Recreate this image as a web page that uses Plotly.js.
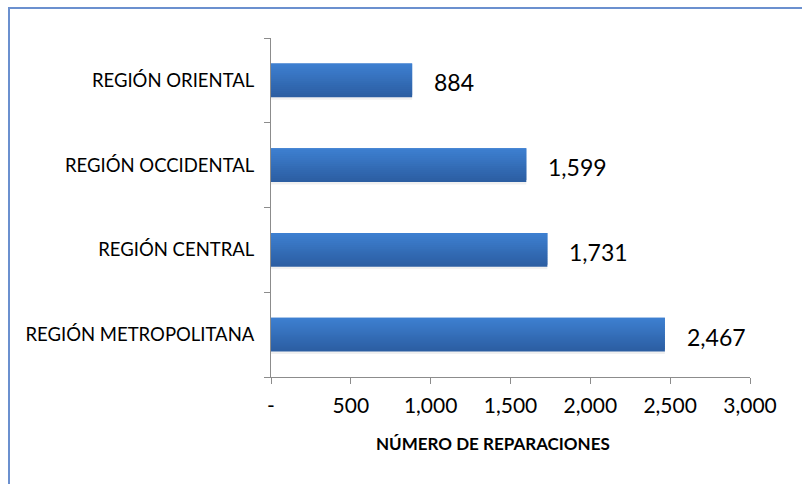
<!DOCTYPE html>
<html><head><meta charset="utf-8">
<script src="https://cdn.plot.ly/plotly-3.0.1.min.js"></script>
<style>
html,body{margin:0;padding:0;background:#fff;}
#frame{position:absolute;left:8px;top:7px;width:794px;height:477px;border-left:2px solid #6b90cf;border-top:2px solid #6b90cf;box-sizing:border-box;}
#chart{position:absolute;left:0;top:0;width:802px;height:484px;}
</style></head>
<body>
<div id="frame"></div>
<div id="chart"></div>
<script>
var categories = ["REGIÓN METROPOLITANA", "REGIÓN CENTRAL", "REGIÓN OCCIDENTAL", "REGIÓN ORIENTAL"];
var values = [2467, 1731, 1599, 884];
var valueLabels = ["2,467", "1,731", "1,599", "884"];
var tickVals = [0, 500, 1000, 1500, 2000, 2500, 3000];
var tickText = ["-", "500", "1,000", "1,500", "2,000", "2,500", "3,000"];
var xTitle = "NÚMERO DE REPARACIONES";

var font = "Lato, 'Open Sans', sans-serif";

// vertical gradient of each bar (style only), drawn as thin overlapping bands bottom -> top
var colBottom = [44, 94, 162], colTop = [61, 127, 208];
var nBands = 17;
var barWidth = 0.4;
var traces = [];
traces.push({type: "bar", orientation: "h", x: values, y: categories, width: 0.035, offset: -barWidth/2 - 0.03,
  marker: {color: "rgba(0,0,0,0.06)", line: {width: 0}}, hoverinfo: "none"});
var step = barWidth / nBands;
for (var i = 0; i < nBands; i++) {
  var t = i / (nBands - 1);
  var c = "rgb(" + colBottom.map(function(b, k){ return Math.round(b + (colTop[k] - b) * t); }).join(",") + ")";
  var w = (i === nBands - 1) ? step : step * 2;
  traces.push({type: "bar", orientation: "h", x: values, y: categories,
    width: w, offset: -barWidth/2 + i*step,
    marker: {color: c, line: {width: 0}}, hoverinfo: "none"});
}

var annotations = values.map(function(v, i){
  return {x: v, y: categories[i], xref: "x", yref: "y", text: valueLabels[i], showarrow: false,
    xanchor: "left", xshift: 20, yshift: -2, font: {family: font, size: 23, color: "#000"}};
});
annotations.push({x: 0.4635, y: -0.195, xref: "paper", yref: "paper", text: "<b>" + xTitle + "</b>",
  showarrow: false, xanchor: "center", yanchor: "middle", font: {family: font, size: 17, color: "#000"}});
var layout = {
  width: 802, height: 484, paper_bgcolor: "rgba(0,0,0,0)", plot_bgcolor: "rgba(0,0,0,0)",
  margin: {l: 271, r: 52, t: 38, b: 107},
  showlegend: false, barmode: "overlay",
  font: {family: font, color: "#000"},
  xaxis: {range: [0, 3000], tickvals: tickVals, ticktext: tickText, showgrid: false, zeroline: false,
    showline: true, linecolor: "#8c8c8c", linewidth: 1, ticks: "outside", ticklen: 6, tickcolor: "#8c8c8c",
    tickfont: {size: 21, family: font}, fixedrange: true, ticklabelstandoff: 4},
  yaxis: {type: "category", showgrid: false, zeroline: false, showline: true, linecolor: "#8c8c8c", linewidth: 1,
    ticks: "outside", tickson: "boundaries", ticklen: 6, tickcolor: "#8c8c8c",
    tickfont: {size: 18.5, family: font}, ticklabelstandoff: 12},
  annotations: annotations
};
Plotly.newPlot("chart", traces, layout, {staticPlot: true});
</script>
</body></html>
